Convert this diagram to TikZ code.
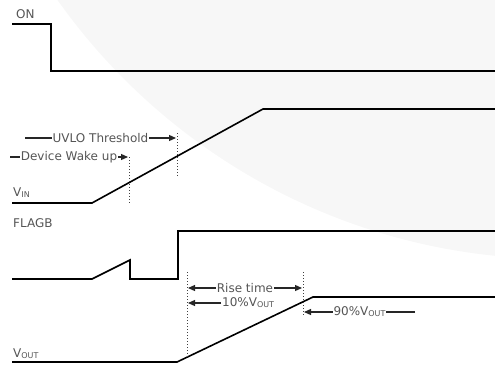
\documentclass[tikz,border=0pt]{standalone}
\usepackage{fontspec}
\setmainfont{DejaVu Sans}
\usetikzlibrary{arrows.meta,positioning}
\definecolor{ink}{HTML}{000000}
\definecolor{inktwo}{HTML}{555555}
\definecolor{wmark}{HTML}{F7F7F7}
\newcommand{\vsub}[1]{{\fontsize{8}{8}\selectfont\raisebox{-1pt}{#1}}}
\tikzset{
  every node/.style={text=inktwo, font=\fontsize{12}{14}\selectfont},
  sig/.style={draw=ink, line width=1.6pt},
  guide/.style={draw=ink!75, dotted, line width=1pt},
  arr/.style={-{Triangle[length=7pt,width=6pt]}, line width=1.2pt, color=ink!85},
  dbl/.style={arr, {Triangle[length=7pt,width=6pt]}-{Triangle[length=7pt,width=6pt]}},
  lbl/.style={fill=white, inner xsep=1pt, inner ysep=0.5pt},
  signame/.style={anchor=base west, inner sep=0pt},
}

\begin{document}
\begin{tikzpicture}[x=1pt,y=-1pt]
  \useasboundingbox (0,0) rectangle (495,365);
  % faint watermark behind everything
  \begin{scope}
    \clip (0,0) rectangle (495,365);
    \fill[wmark] (558,-354) circle[radius=613pt];
  \end{scope}

  % ---- signal names ----
  \node[signame] (on)    at (16,18)  {ON};
  \node[signame] (vin)   at (13,196) {V\vsub{IN}};
  \node[signame] (flagb) at (13,227) {FLAGB};
  \node[signame] (vout)  at (13,357) {V\vsub{OUT}};

  % ---- waveforms ----
  \draw[sig] (12,24) -- (51,24) -- (51,71) -- (495,71);
  \draw[sig] (12,203) -- (92,203) -- (263,109) -- (495,109);
  \draw[sig] (12,279) -- (92,279) -- (130,260) -- (130,279) -- (178,279) -- (178,231) -- (495,231);
  \draw[sig] (12,362) -- (177,362) -- (313,297) -- (495,297);

  % ---- dotted markers ----
  \foreach \x/\a/\b in {129/157/204, 177/133/177, 187/272/357, 303/272/316}{
    \draw[guide] (\x,\a) -- (\x,\b);
  }

  % ---- VIN annotations ----
  \coordinate (uv0) at (25,138);
  \coordinate (uv1) at (176,138);
  \coordinate (wk0) at (10,157);
  \coordinate (wk1) at (128,157);
  \draw[arr] (uv0) -- node[lbl]{UVLO Threshold} (uv1);
  \draw[arr] (wk0) -- node[lbl]{Device Wake up} (wk1);

  % ---- VOUT annotations ----
  \coordinate (rs0) at (188,288);
  \coordinate (rs1) at (302,288);
  \draw[dbl] (rs0) -- node[lbl]{Rise time} (rs1);

  \coordinate (t10) at (188,303);
  \node[lbl, anchor=west] (tenpct) at (221,303) {10\%V\vsub{OUT}};
  \draw[arr] (tenpct.west) -- (t10);

  \coordinate (n90a) at (304,312);
  \coordinate (n90b) at (415,312);
  \draw[arr] (n90b) -- node[lbl]{90\%V\vsub{OUT}} (n90a);
\end{tikzpicture}
\end{document}
